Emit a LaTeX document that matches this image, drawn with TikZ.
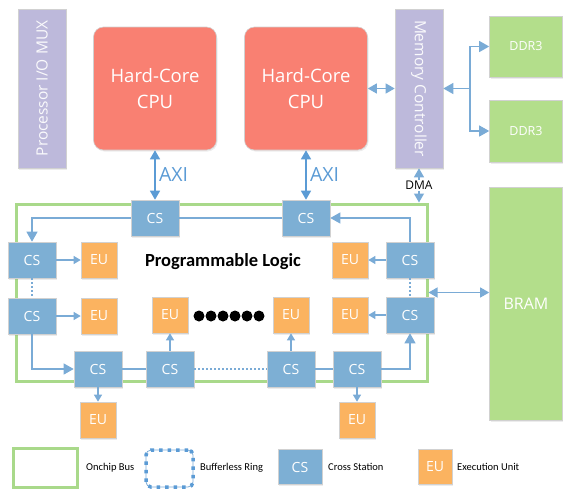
\documentclass[tikz,border=0pt]{standalone}
\usepackage{fontspec}
\setmainfont{Carlito}
\newfontfamily\boxfont{Open Sans}
\usetikzlibrary{arrows.meta,shadows}

\definecolor{csblue}{HTML}{7DAFD4}
\definecolor{euorange}{HTML}{FBB360}
\definecolor{cpured}{HTML}{F98072}
\definecolor{ctrllav}{HTML}{BDB9DB}
\definecolor{memgreen}{HTML}{B3DE8B}
\definecolor{busgreen}{HTML}{A9D98A}
\definecolor{linkblue}{HTML}{7AABD6}
\definecolor{axiblue}{HTML}{5B9BD5}

\begin{document}
\begin{tikzpicture}[x=1pt,y=-1pt,
    box/.style={draw=black!18,line width=0.6pt,inner sep=0pt,text=white,
      drop shadow={opacity=0.15,shadow xshift=1pt,shadow yshift=-1.5pt}},
    cs/.style={box,fill=csblue,minimum width=48pt,minimum height=36pt,font=\boxfont\fontsize{14}{14}\selectfont},
    eu/.style={box,fill=euorange,minimum width=36pt,minimum height=36pt,font=\boxfont\fontsize{14}{14}\selectfont},
    cpu/.style={box,fill=cpured,rounded corners=10pt,minimum width=123pt,minimum height=123pt,
      align=center,font=\boxfont\fontsize{18.5}{26}\selectfont},
    ctrl/.style={box,fill=ctrllav,minimum width=48pt,minimum height=159pt},
    ctrltext/.style={text=white!93!ctrllav,font=\boxfont\fontsize{15.5}{15.5}\selectfont},
    mem/.style={box,fill=memgreen,minimum width=73pt},
    bus/.style={draw=busgreen,line width=3pt},
    link/.style={draw=linkblue,line width=1.2pt},
    dots/.style={link,dash pattern=on 2pt off 2pt},
    arr/.style={-{Stealth[length=10pt,width=11pt,inset=0pt]}},
    arrs/.style={-{Stealth[length=7pt,width=8pt,inset=0pt]}},
    dbl/.style={{Stealth[length=9pt,width=10pt,inset=0pt]}-{Stealth[length=9pt,width=10pt,inset=0pt]}},
    legend/.style={anchor=west,inner sep=0pt,font=\fontsize{10.5}{10.5}\selectfont},
  ]
  \useasboundingbox (0,0) rectangle (563,491);

  % processing system and memories
  \node[ctrl,label={[rotate=90,ctrltext]center:Processor I/O MUX}] (mux) at (42,88.5) {};
  \node[cpu] (cpuA) at (155,88.5) {Hard-Core\\CPU};
  \node[cpu] (cpuB) at (306,88.5) {Hard-Core\\CPU};
  \node[ctrl,label={[rotate=-90,ctrltext]center:Memory Controller}] (mc) at (419,88.5) {};
  \node[mem,minimum height=61pt,font=\boxfont\fontsize{12.5}{12.5}\selectfont] (ddrA) at (526,46.5) {DDR3};
  \node[mem,minimum height=62pt,font=\boxfont\fontsize{12.5}{12.5}\selectfont] (ddrB) at (526,131) {DDR3};
  \node[mem,minimum height=233pt,font=\boxfont\fontsize{16}{16}\selectfont] (bram) at (526,303.5) {BRAM};

  % programmable logic with the ring
  \node[bus,minimum width=411pt,minimum height=177pt] (pl) at (221.5,292.5) {};
  \node[font=\bfseries\fontsize{18.5}{18.5}\selectfont] (plname) at (223,262) {Programmable Logic};

  \node[cs] (csT1) at (155,218) {CS};
  \node[cs] (csT2) at (306,218) {CS};
  \node[cs] (csL1) at (32,260) {CS};
  \node[cs] (csL2) at (32,316) {CS};
  \node[cs] (csR1) at (410,260) {CS};
  \node[cs] (csR2) at (410,315) {CS};
  \node[cs] (csB1) at (98,369) {CS};
  \node[cs] (csB2) at (170,369) {CS};
  \node[cs] (csB3) at (291,369) {CS};
  \node[cs] (csB4) at (357,369) {CS};

  \node[eu] (euL1) at (99,260) {EU};
  \node[eu] (euL2) at (99,316) {EU};
  \node[eu] (euR1) at (350,260) {EU};
  \node[eu] (euR2) at (350,315) {EU};
  \node[eu] (euM1) at (170,315) {EU};
  \node[eu] (euM2) at (291,315) {EU};
  \node[eu] (euB1) at (98,420) {EU};
  \node[eu] (euB4) at (357,420) {EU};

  \foreach \x in {199,211,...,259}
    \fill (\x,316) circle (5.5pt);

  % ring links
  \draw[link,arr] (csT1.west) -| (csL1.north);
  \draw[link] (csT1) -- (csT2);
  \draw[link,arr] (csR1.north) |- (csT2.east);
  \draw[dots] (csL1) -- (csL2);
  \draw[dots] (csR1) -- (csR2);
  \draw[link,arr] (csL2.south) |- (csB1.west);
  \draw[link] (csB1) -- (csB2);
  \draw[dots] (csB2) -- (csB3);
  \draw[link] (csB3) -- (csB4);
  \draw[link,arr] (csB4.east) -| (csR2.south);
  \foreach \s/\e in {csL1/euL1,csL2/euL2,csR1/euR1,csR2/euR2,csB1/euB1,csB2/euM1,csB3/euM2,csB4/euB4}
    \draw[link,arrs] (\s) -- (\e);

  % buses to the processing system
  \draw[dbl,draw=axiblue,line width=1.5pt] (cpuA) -- node[right,text=axiblue,font=\boxfont\fontsize{19.5}{19.5}\selectfont] {AXI} (csT1);
  \draw[dbl,draw=axiblue,line width=1.5pt] (cpuB) -- node[right,text=axiblue,font=\boxfont\fontsize{19.5}{19.5}\selectfont] {AXI} (csT2);
  \draw[link,dbl] (cpuB) -- (mc);
  \coordinate (split) at (470,88.5);
  \draw[link,arr] (split) -- (mc);
  \draw[link,arr] (split) |- (ddrA);
  \draw[link,arr] (split) |- (ddrB);
  \draw[link,dbl] (mc.south) -- node[fill=white,inner sep=1pt,font=\boxfont\fontsize{12}{12}\selectfont] {DMA} (mc.south |- pl.north);
  \draw[link,dbl] (pl.east) -- (pl.east -| bram.west);

  % legend
  \node[bus,minimum width=64pt,minimum height=39pt] (lgBus) at (45.5,468) {};
  \node[legend] (lgBusT) at (86,468) {Onchip Bus};
  \node[draw=linkblue,line width=0.8pt,rounded corners=5pt,minimum width=47pt,minimum height=37pt,
    postaction={draw=axiblue,line width=3.5pt,dash pattern=on 3.5pt off 5pt}] (lgRing) at (169.5,468.5) {};
  \node[legend] (lgRingT) at (200,468) {Bufferless Ring};
  \node[cs,minimum width=44pt,minimum height=35pt] (lgCS) at (300,467) {CS};
  \node[legend] (lgCST) at (328,467) {Cross Station};
  \node[eu,minimum width=34pt,minimum height=35pt] (lgEU) at (435,467) {EU};
  \node[legend] (lgEUT) at (457,467) {Execution Unit};
\end{tikzpicture}
\end{document}
